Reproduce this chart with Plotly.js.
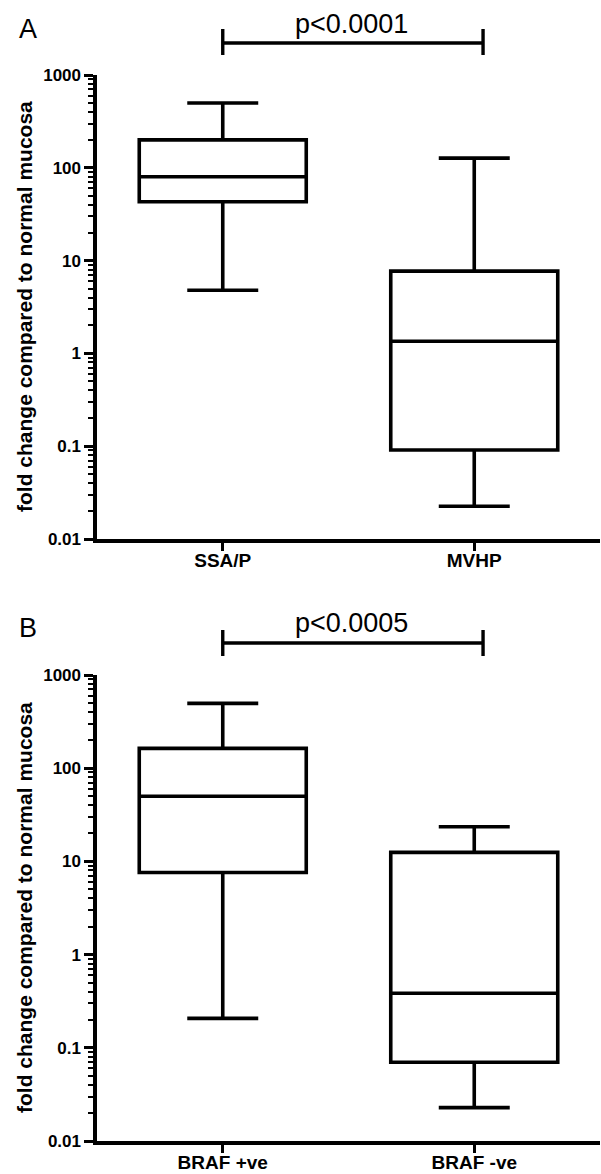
<!DOCTYPE html>
<html>
<head>
<meta charset="utf-8">
<script src="https://cdn.plot.ly/plotly-3.0.1.min.js"></script>
<style>html,body{margin:0;padding:0;background:#fff;}#chart{width:601px;height:1174px;}</style>
</head>
<body>
<div id="chart"></div>
<script>
// ---- data ----
const catsA = ['SSA/P', 'MVHP'];
const lowA = [4.8, 0.0225];
const q1A = [43, 0.091];
const medA = [80, 1.35];
const q3A = [200, 7.7];
const highA = [500, 127];

const catsB = ['BRAF +ve', 'BRAF -ve'];
const lowB = [0.207, 0.0228];
const q1B = [7.6, 0.07];
const medB = [50, 0.385];
const q3B = [163, 12.5];
const highB = [496, 23.5];

const yTickVals = [0.01, 0.1, 1, 10, 100, 1000];
const yTickText = ['0.01', '0.1', '1', '10', '100', '1000'];
const pLabelA = 'p<0.0001';
const pLabelB = 'p<0.0005';
const yTitle = 'fold change compared to normal mucosa';

// ---- layout helpers ----
const W = 601, H = 1174, L = 97, R = 1;
const py = p => 1 - p / H;
const px = p => (p - L) / (W - L - R);
const FONT = 'Arial, "Liberation Sans", sans-serif';
const LW = 3.6;

function boxTrace(cats, lo, q1, med, q3, hi, xa, ya) {
  return {
    type: 'box', x: cats, q1: q1, median: med, q3: q3,
    lowerfence: lo, upperfence: hi,
    xaxis: xa, yaxis: ya,
    boxpoints: false, width: 0.664, whiskerwidth: 0.425,
    fillcolor: 'rgba(255,255,255,0)',
    line: { color: '#000', width: LW },
    hoverinfo: 'skip', showlegend: false
  };
}

function yAxis(domain, anchor) {
  return {
    domain: domain, anchor: anchor, type: 'log', range: [-2, 3],
    tickmode: 'array', tickvals: yTickVals, ticktext: yTickText,
    ticks: 'outside', ticklen: 9, tickwidth: 3, tickcolor: '#000',
    minor: { ticks: 'outside', ticklen: 5, tickwidth: 2, tickcolor: '#000', dtick: 'D1', showgrid: false },
    showline: true, linewidth: LW, linecolor: '#000',
    showgrid: false, zeroline: false,
    tickfont: { family: FONT, size: 17, color: '#000', weight: 'bold' },
    fixedrange: true
  };
}

function xAxis(anchor) {
  return {
    anchor: anchor, type: 'category', range: [-0.5, 1.5],
    ticks: 'outside', ticklen: 8, tickwidth: 3, tickcolor: '#000',
    ticklabelstandoff: -6,
    showline: true, linewidth: LW, linecolor: '#000',
    showgrid: false, zeroline: false,
    tickfont: { family: FONT, size: 19, color: '#000', weight: 'bold' },
    fixedrange: true
  };
}

function bracket(xref, yLine, yTop, yBot) {
  const xr = 1.035;
  const ln = { color: '#000', width: 3.4 };
  return [
    { type: 'line', xref: xref, yref: 'paper', x0: 0, x1: xr, y0: py(yLine), y1: py(yLine), line: ln },
    { type: 'line', xref: xref, yref: 'paper', x0: 0, x1: 0, y0: py(yTop), y1: py(yBot), line: ln },
    { type: 'line', xref: xref, yref: 'paper', x0: xr, x1: xr, y0: py(yTop), y1: py(yBot), line: ln }
  ];
}

const data = [
  boxTrace(catsA, lowA, q1A, medA, q3A, highA, 'x', 'y'),
  boxTrace(catsB, lowB, q1B, medB, q3B, highB, 'x2', 'y2')
];

const layout = {
  width: W, height: H,
  margin: { l: L, r: R, t: 0, b: 0 },
  paper_bgcolor: '#fff', plot_bgcolor: '#fff',
  showlegend: false,
  xaxis: xAxis('y'),
  yaxis: yAxis([py(539), py(75)], 'x'),
  xaxis2: xAxis('y2'),
  yaxis2: yAxis([py(1141), py(675)], 'x2'),
  shapes: [].concat(bracket('x', 43, 29, 55), bracket('x2', 643, 630, 656)),
  annotations: [
    { text: 'A', xref: 'paper', yref: 'paper', x: px(17), y: py(29), xanchor: 'left', yanchor: 'middle', showarrow: false, font: { family: FONT, size: 27, color: '#000' } },
    { text: 'B', xref: 'paper', yref: 'paper', x: px(17), y: py(628), xanchor: 'left', yanchor: 'middle', showarrow: false, font: { family: FONT, size: 27, color: '#000' } },
    { text: pLabelA, xref: 'paper', yref: 'paper', x: px(351), y: py(24), xanchor: 'center', yanchor: 'middle', showarrow: false, font: { family: FONT, size: 27, color: '#000' } },
    { text: pLabelB, xref: 'paper', yref: 'paper', x: px(351), y: py(623), xanchor: 'center', yanchor: 'middle', showarrow: false, font: { family: FONT, size: 27, color: '#000' } },
    { text: yTitle, xref: 'paper', yref: 'paper', x: px(24), y: py(307), xanchor: 'center', yanchor: 'middle', textangle: -90, showarrow: false, font: { family: FONT, size: 21, color: '#000', weight: 'bold' } },
    { text: yTitle, xref: 'paper', yref: 'paper', x: px(24), y: py(908), xanchor: 'center', yanchor: 'middle', textangle: -90, showarrow: false, font: { family: FONT, size: 21, color: '#000', weight: 'bold' } }
  ]
};

Plotly.newPlot('chart', data, layout, { staticPlot: true, displayModeBar: false });
</script>
</body>
</html>
